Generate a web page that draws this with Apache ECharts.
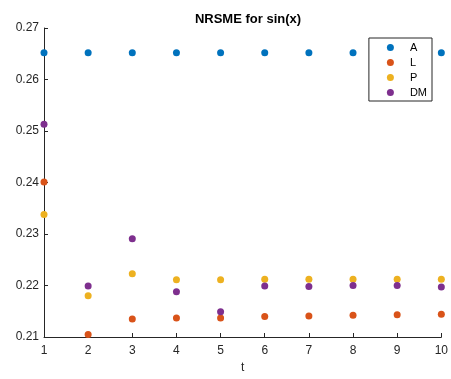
<!DOCTYPE html>
<html>
<head>
<meta charset="utf-8">
<script src="https://cdn.jsdelivr.net/npm/echarts@6/dist/echarts.min.js"></script>
<style>
  html, body { margin: 0; padding: 0; background: #fff; }
  #chart { width: 451px; height: 379px; }
</style>
</head>
<body>
<div id="chart"></div>
<script>
// Error per time step for each method
const tValues = [1, 2, 3, 4, 5, 6, 7, 8, 9, 10];
const seriesA  = [0.2652, 0.2652, 0.2652, 0.2652, 0.2652, 0.2652, 0.2652, 0.2652, 0.2652, 0.2652];
const seriesL  = [0.2401, 0.2105, 0.2135, 0.2137, 0.2137, 0.2140, 0.2141, 0.2142, 0.2143, 0.2144];
const seriesP  = [0.2338, 0.2180, 0.2223, 0.2211, 0.2211, 0.2212, 0.2212, 0.2212, 0.2212, 0.2212];
const seriesDM = [0.2513, 0.2199, 0.2291, 0.2188, 0.2149, 0.2199, 0.2198, 0.2200, 0.2200, 0.2197];
const names = ['A', 'L', 'P', 'DM'];
const colors = ['#0072BD', '#D95319', '#EDB120', '#7E2F8E'];

const axisColor = '#262626';
const font = 'Liberation Sans, Arial, Helvetica, sans-serif';

function pairs(vals) {
  return tValues.map((t, i) => [t, vals[i]]);
}

const chart = echarts.init(document.getElementById('chart'));
chart.setOption({
  animation: false,
  backgroundColor: '#ffffff',
  title: {
    text: 'NRSME for sin(x)',
    left: 243,
    textAlign: 'center',
    top: 8,
    textStyle: { fontFamily: font, fontSize: 13, fontWeight: 'bold', color: '#000' }
  },
  grid: { left: 44, right: 9, top: 28, bottom: 37.3, containLabel: false },
  legend: {
    data: names,
    orient: 'vertical',
    right: 19,
    top: 38,
    itemWidth: 7,
    itemHeight: 7,
    itemGap: 0,
    padding: [2, 5, 1, 18],
    backgroundColor: '#ffffff',
    borderColor: axisColor,
    borderWidth: 1,
    textStyle: { fontFamily: font, fontSize: 11, color: '#000', lineHeight: 15, padding: [0, 0, 0, 11] }
  },
  xAxis: {
    type: 'value',
    min: 1,
    max: 10,
    interval: 1,
    name: 't',
    nameLocation: 'middle',
    nameGap: 25,
    nameTextStyle: { fontFamily: font, fontSize: 12, color: axisColor },
    axisLine: { show: true, lineStyle: { color: axisColor, width: 1 } },
    axisTick: { show: true, inside: true, length: 4, lineStyle: { color: axisColor } },
    axisLabel: { fontFamily: font, fontSize: 12, color: axisColor, margin: 8 },
    splitLine: { show: false }
  },
  yAxis: {
    type: 'value',
    min: 0.21,
    max: 0.27,
    interval: 0.01,
    axisLine: { show: true, lineStyle: { color: axisColor, width: 1 } },
    axisTick: { show: true, inside: true, length: 4, lineStyle: { color: axisColor } },
    axisLabel: {
      fontFamily: font, fontSize: 12, color: axisColor, margin: 5,
      formatter: v => v.toFixed(2)
    },
    splitLine: { show: false }
  },
  series: [seriesA, seriesL, seriesP, seriesDM].map((vals, i) => ({
    name: names[i],
    type: 'scatter',
    symbol: 'circle',
    symbolSize: 7,
    itemStyle: { color: colors[i], opacity: 1 },
    data: pairs(vals)
  }))
});
</script>
</body>
</html>
